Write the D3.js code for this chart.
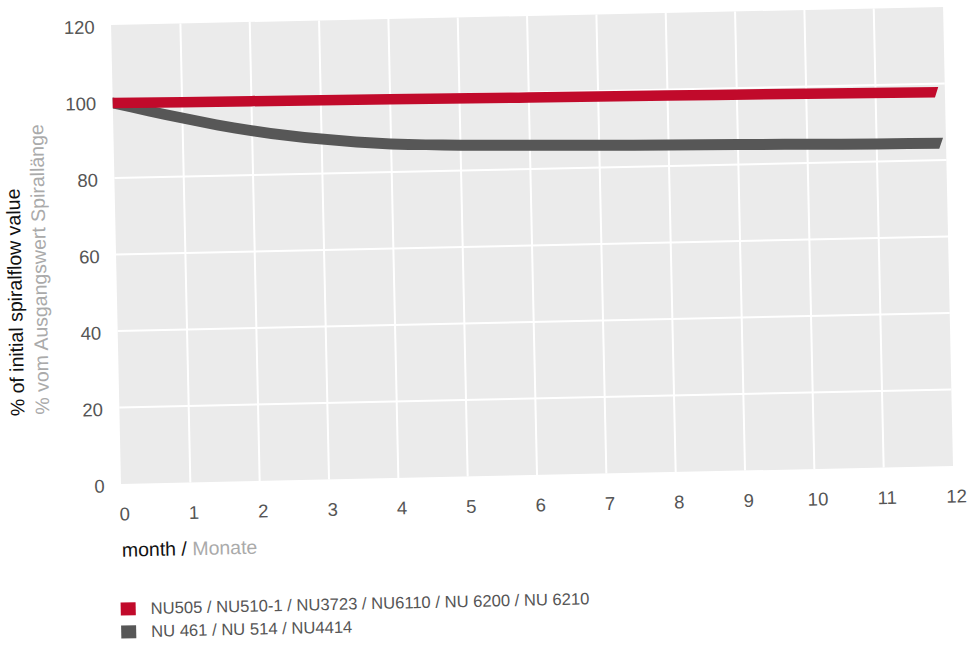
<!DOCTYPE html>
<html>
<head>
<meta charset="utf-8">
<script src="https://cdn.jsdelivr.net/npm/d3@7/dist/d3.min.js"></script>
<style>
  html, body { margin: 0; padding: 0; background: #ffffff; }
  svg { display: block; }
  text { font-family: "Liberation Sans", Arial, Helvetica, sans-serif; }
</style>
</head>
<body>
<svg id="chart" width="973" height="646"></svg>
<script>
// ---- data ----
const xTicks = [0, 1, 2, 3, 4, 5, 6, 7, 8, 9, 10, 11, 12];
const yTicks = [0, 20, 40, 60, 80, 100, 120];

const redName = "NU505 / NU510-1 / NU3723 / NU6110 / NU 6200 / NU 6210";
const redMonths = [0, 2, 4, 6, 8, 10, 11.88];
const redValues = [99.6, 99.3, 99.0, 98.7, 98.4, 98.1, 97.75];

const grayName = "NU 461 / NU 514 / NU4414";
const grayMonths = [0, 0.5, 1, 1.5, 2, 3, 4, 5, 6, 7, 8, 9, 10, 11, 11.93];
const grayValues = [99.6, 97.4, 95.3, 93.3, 91.6, 89.0, 87.3, 86.6, 86.2, 85.8, 85.5, 85.2, 84.9, 84.6, 84.4];

// ---- layout ----
const plot = { left: 121, right: 953.2, top: 24.9, bottom: 484 };
const tilt = -1.24; // whole sheet is slightly tilted

const svg = d3.select("#chart");
const root = svg.append("g")
  .attr("transform", `rotate(${tilt}, ${plot.left}, ${plot.bottom})`);

const x = d3.scaleLinear().domain([0, 12]).range([plot.left, plot.right]);
const y = d3.scaleLinear().domain([0, 120]).range([plot.bottom, plot.top]);

// plot background
root.append("rect")
  .attr("x", x(0)).attr("y", y(120))
  .attr("width", x(12) - x(0)).attr("height", y(0) - y(120))
  .attr("fill", "#ebebeb");

// grid
root.append("g").selectAll("line")
  .data(xTicks.filter(d => d > 0 && d < 12))
  .join("line")
  .attr("x1", d => x(d)).attr("x2", d => x(d))
  .attr("y1", y(120)).attr("y2", y(0))
  .attr("stroke", "#ffffff").attr("stroke-width", 2);

root.append("g").selectAll("line")
  .data(yTicks.filter(d => d > 0 && d < 120))
  .join("line")
  .attr("x1", x(0)).attr("x2", x(12))
  .attr("y1", d => y(d)).attr("y2", d => y(d))
  .attr("stroke", "#ffffff").attr("stroke-width", 2);

// axes (labels only)
const xAxis = root.append("g")
  .attr("transform", `translate(0, ${plot.bottom})`)
  .call(d3.axisBottom(x).tickValues(xTicks).tickSize(0).tickFormat(d3.format("d")));
xAxis.select(".domain").remove();
xAxis.selectAll("text")
  .attr("x", 2.5).attr("y", 36.5).attr("dy", null)
  .attr("fill", "#555555").attr("font-size", 18.5)
  .attr("font-family", '"Liberation Sans", Arial, sans-serif');

const yAxis = root.append("g")
  .attr("transform", `translate(${plot.left}, 0)`)
  .call(d3.axisLeft(y).tickValues(yTicks).tickSize(0).tickFormat(d3.format("d")));
yAxis.select(".domain").remove();
yAxis.selectAll("text")
  .attr("x", -16.5).attr("dy", "0.41em")
  .attr("fill", "#555555").attr("font-size", 18.5)
  .attr("font-family", '"Liberation Sans", Arial, sans-serif');

// series bands
function band(months, values, width, slant) {
  const pts = months.map((m, i) => ({ m, v: values[i] }));
  const last = pts.length - 1;
  return d3.area()
    .x0((d, i) => x(d.m) - (i === last ? slant / 2 : 0))
    .x1((d, i) => x(d.m) + (i === last ? slant / 2 : 0))
    .y0(d => y(d.v) + width / 2)
    .y1(d => y(d.v) - width / 2)
    .curve(d3.curveMonotoneX)(pts);
}

root.append("path")
  .attr("d", band(grayMonths, grayValues, 11, 4))
  .attr("fill", "#575757");

root.append("path")
  .attr("d", band(redMonths, redValues, 10.5, 3.5))
  .attr("fill", "#c10a2b");

// axis titles
root.append("text")
  .attr("x", 120.4).attr("y", 556.7)
  .attr("font-size", 19.5)
  .call(t => {
    t.append("tspan").attr("fill", "#111111").text("month / ");
    t.append("tspan").attr("fill", "#aaaaaa").text("Monate");
  });

root.append("text")
  .attr("transform", "translate(26, 414) rotate(-90)")
  .attr("font-size", 19.5).attr("fill", "#111111")
  .text("% of initial spiralflow value");

root.append("text")
  .attr("transform", "translate(50.8, 413) rotate(-90)")
  .attr("font-size", 19.5).attr("fill", "#aaaaaa")
  .text("% vom Ausgangswert Spirallänge");

// legend
const legendItems = [
  { name: redName, color: "#c10a2b", y: 614.5 },
  { name: grayName, color: "#575757", y: 637.5 }
];
const lg = root.append("g");
lg.selectAll("rect").data(legendItems).join("rect")
  .attr("x", 118).attr("y", d => d.y - 12)
  .attr("width", 15).attr("height", 13)
  .attr("fill", d => d.color);
lg.selectAll("text").data(legendItems).join("text")
  .attr("x", 148).attr("y", d => d.y)
  .attr("font-size", 16.6).attr("fill", "#555555")
  .text(d => d.name);
</script>
</body>
</html>
